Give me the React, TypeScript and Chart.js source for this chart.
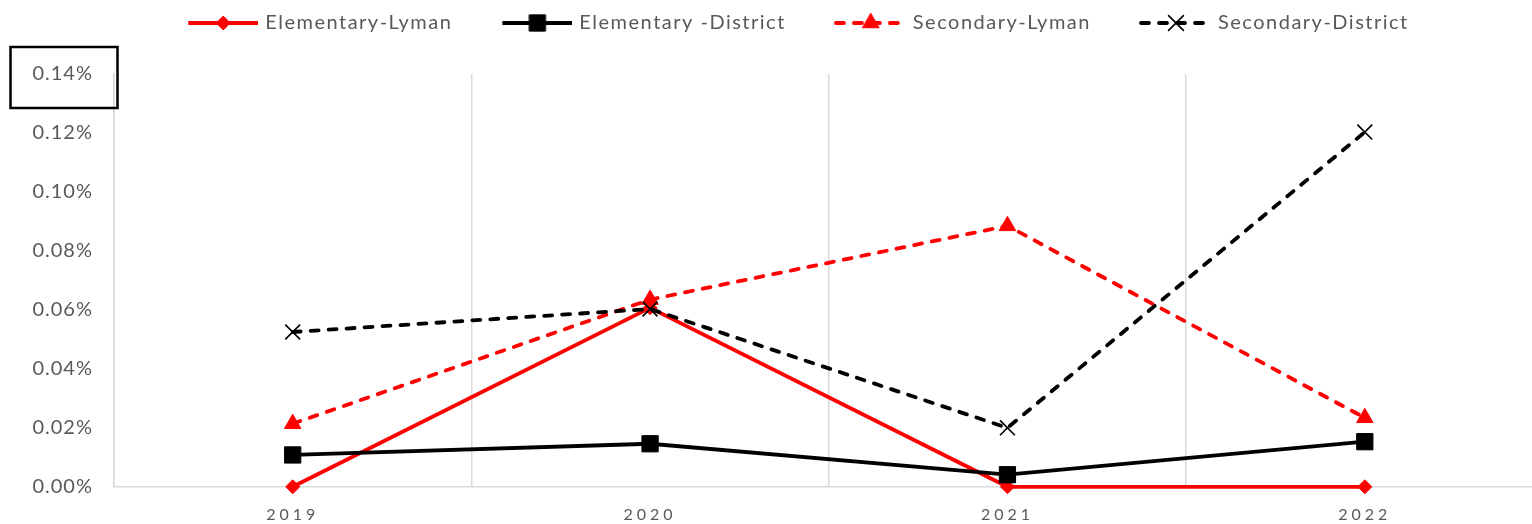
import React, { useEffect, useRef } from "react";
import { Chart, registerables } from "chart.js";
import { drawPoint } from "chart.js/helpers";

Chart.register(...registerables);

const years = ["2019", "2020", "2021", "2022"];
const seriesNames = ["Elementary-Lyman", "Elementary -District", "Secondary-Lyman", "Secondary-District"];
const elementaryLyman = [0, 0.0607, 0, 0];
const elementaryDistrict = [0.0108, 0.0146, 0.0041, 0.0153];
const secondaryLyman = [0.0214, 0.0635, 0.0885, 0.0234];
const secondaryDistrict = [0.0525, 0.0603, 0.02, 0.1203];
const yMin = 0;
const yMax = 0.14;
const yStep = 0.02;
const highlightedTick = 0.14;

const FONT = "Lato, 'Open Sans', sans-serif";
const TEXT = "#595959";
const GRID = "#d9d9d9";

type Style = {
  color: string;
  dash: number[];
  pointStyle: string;
  radius: number;
  width: number;
  pointBorder: number;
};

const styles: Style[] = [
  { color: "#ff0000", dash: [], pointStyle: "rectRot", radius: 7, width: 3.8, pointBorder: 1 },
  { color: "#000000", dash: [], pointStyle: "rect", radius: 11.5, width: 3.8, pointBorder: 1 },
  { color: "#ff0000", dash: [8, 10], pointStyle: "triangle", radius: 9.5, width: 3.8, pointBorder: 1 },
  { color: "#000000", dash: [8, 10], pointStyle: "crossRot", radius: 10.5, width: 3.8, pointBorder: 1.6 },
];

function makeIcon(s: Style): HTMLCanvasElement {
  const c = document.createElement("canvas");
  c.width = 116;
  c.height = 24;
  const ctx = c.getContext("2d")!;
  ctx.strokeStyle = s.color;
  ctx.fillStyle = s.color;
  ctx.lineWidth = s.width;
  ctx.lineCap = s.dash.length ? "round" : "butt";
  ctx.setLineDash(s.dash);
  ctx.beginPath();
  ctx.moveTo(46, 12);
  ctx.lineTo(116, 12);
  ctx.stroke();
  ctx.setLineDash([]);
  ctx.lineWidth = s.pointBorder;
  drawPoint(ctx, { pointStyle: s.pointStyle as any, radius: s.radius, rotation: 0, borderWidth: s.pointBorder }, 81, 12);
  return c;
}

const legendHeightPlugin = {
  id: "legendHeight",
  beforeInit(chart: any) {
    (chart.ctx as any).letterSpacing = "1.5px";
    const legend = chart.legend;
    if (!legend) return;
    const orig = legend.fit.bind(legend);
    legend.fit = function () {
      orig();
      this.height = 68;
    };
  },
  beforeLayout(chart: any) {
    (chart.ctx as any).letterSpacing = "1.5px";
  },
};

const spacingPlugin = {
  id: "tickSpacing",
  beforeDraw(chart: any) {
    (chart.ctx as any).letterSpacing = "1.5px";
    const wrap = (scale: any, spacing: string) => {
      if (!scale || scale.__wrapped) return;
      const orig = scale.drawLabels.bind(scale);
      scale.drawLabels = (area: any) => {
        const ctx = chart.ctx;
        ctx.save();
        (ctx as any).letterSpacing = spacing;
        orig(area);
        ctx.restore();
      };
      scale.__wrapped = true;
    };
    wrap(chart.scales.x, "4px");
    wrap(chart.scales.y, "1px");
  },
};

const boxPlugin = {
  id: "tickBox",
  afterDraw(chart: any) {
    const ctx = chart.ctx;
    const y = chart.scales.y.getPixelForValue(highlightedTick);
    ctx.save();
    ctx.strokeStyle = "#000";
    ctx.lineWidth = 2.5;
    ctx.strokeRect(10.5, y - 27, chart.chartArea.left - 7, 61);
    ctx.restore();
  },
};

export default function App() {
  const ref = useRef<HTMLCanvasElement | null>(null);

  useEffect(() => {
    if (!ref.current) return;
    const seriesData = [elementaryLyman, elementaryDistrict, secondaryLyman, secondaryDistrict];
    const icons = styles.map(makeIcon);
    const chart = new Chart(ref.current, {
      type: "line",
      data: {
        labels: years,
        datasets: seriesData.map((d, i) => ({
          label: seriesNames[i],
          data: d,
          borderColor: styles[i].color,
          backgroundColor: styles[i].color,
          borderWidth: styles[i].width,
          borderDash: styles[i].dash,
          borderCapStyle: styles[i].dash.length ? "round" : "butt",
          pointStyle: styles[i].pointStyle as any,
          pointRadius: styles[i].radius,
          pointBorderWidth: styles[i].pointBorder,
          pointBorderColor: styles[i].color,
          pointBackgroundColor: styles[i].color,
          tension: 0,
          fill: false,
          clip: false as any,
          order: 3 - i,
        })),
      },
      options: {
        responsive: true,
        maintainAspectRatio: false,
        devicePixelRatio: 1,
        animation: false,
        layout: { padding: { top: 6, right: 2, bottom: 0, left: 0 } },
        plugins: {
          tooltip: { enabled: false },
          legend: {
            display: true,
            position: "top",
            labels: {
              usePointStyle: true,
              pointStyleWidth: 110,
              padding: 7,
              color: TEXT,
              font: { family: FONT, size: 20 },
              generateLabels: () =>
                seriesNames.map((n, i) => ({
                  text: n,
                  pointStyle: icons[i] as any,
                  fillStyle: "rgba(0,0,0,0)",
                  strokeStyle: "rgba(0,0,0,0)",
                  lineWidth: 0,
                  hidden: false,
                  datasetIndex: i,
                  fontColor: TEXT,
                })),
            },
          },
        },
        scales: {
          x: {
            offset: true,
            grid: { display: true, offset: true, color: GRID, lineWidth: 1.5, drawTicks: false },
            border: { display: true, color: GRID, width: 1.5 },
            ticks: { color: TEXT, font: { family: FONT, size: 16 }, padding: 18 },
          },
          y: {
            min: yMin,
            max: yMax,
            grid: { display: false, drawTicks: false },
            border: { display: true, color: GRID, width: 1.5 },
            ticks: {
              stepSize: yStep,
              color: TEXT,
              font: { family: FONT, size: 20 },
              padding: 21,
              callback: (v: any) => Number(v).toFixed(2) + "%",
            },
            afterFit: (s: any) => {
              s.width = 114;
            },
          },
        },
      },
      plugins: [legendHeightPlugin, spacingPlugin, boxPlugin],
    });
    return () => chart.destroy();
  }, []);

  return (
    <div style={{ position: "fixed", left: 0, top: 0, width: 1532, height: 524, overflow: "hidden", background: "#fff" }}>
      <div style={{ position: "relative", width: 1556, height: 542 }}>
        <canvas ref={ref} />
      </div>
    </div>
  );
}
